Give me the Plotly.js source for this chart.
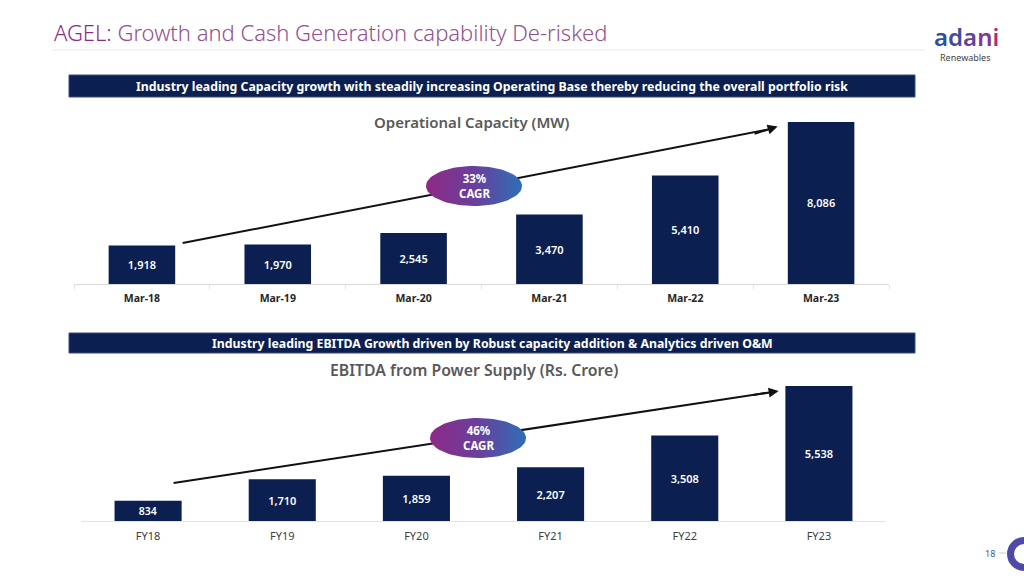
<!DOCTYPE html>
<html><head><meta charset="utf-8">
<script src="https://cdn.plot.ly/plotly-3.0.1.min.js"></script>
<style>html,body{margin:0;padding:0;background:#fff}#chart{width:1024px;height:576px}</style>
</head><body><div id="chart"></div>
<script>
// ---- data ----
const capacityCategories = ["Mar-18","Mar-19","Mar-20","Mar-21","Mar-22","Mar-23"];
const capacityValues = [1918, 1970, 2545, 3470, 5410, 8086];
const ebitdaCategories = ["FY18","FY19","FY20","FY21","FY22","FY23"];
const ebitdaValues = [834, 1710, 1859, 2207, 3508, 5538];
const capacityCagr = "33%";
const ebitdaCagr = "46%";

const NAVY = "#0b1f50";
const FONT = "Noto Sans, Lato, sans-serif";
const fmt = v => v.toLocaleString("en-US");

// pixel -> paper helpers for decoration
const px = x => x / 1024, py = y => 1 - y / 576;

function ellipse(cx, cy, rx, ry) {
  const xs = [], ys = [];
  for (let i = 0; i <= 72; i++) { const t = i / 72 * 2 * Math.PI; xs.push(cx + rx * Math.cos(t)); ys.push(cy + ry * Math.sin(t)); }
  return {type: "scatter", mode: "lines", x: xs, y: ys, xaxis: "x3", yaxis: "y3",
    fill: "toself", line: {width: 0, color: "rgba(0,0,0,0)"}, hoverinfo: "skip",
    fillgradient: {type: "horizontal", colorscale: [[0, "#8e2a86"], [0.5, "#6a3f9c"], [1, "#2e6fb6"]]}};
}

const barCommon = {type: "bar", marker: {color: NAVY}, textposition: "inside", insidetextanchor: "middle",
  textfont: {color: "#ffffff", size: 11, family: FONT, weight: 600}, hoverinfo: "skip", cliponaxis: false};

const traces = [
  Object.assign({}, barCommon, {x: capacityCategories, y: capacityValues, text: capacityValues.map(fmt), width: 0.49, xaxis: "x", yaxis: "y"}),
  Object.assign({}, barCommon, {x: ebitdaCategories, y: ebitdaValues, text: ebitdaValues.map(fmt), width: 0.5, xaxis: "x2", yaxis: "y2"}),
  ellipse(474, 186, 48, 20),
  ellipse(478, 438, 48, 20)
];

const layout = {
  width: 1024, height: 576, margin: {l: 0, r: 0, t: 0, b: 0},
  paper_bgcolor: "#ffffff", plot_bgcolor: "rgba(0,0,0,0)", showlegend: false,
  font: {family: FONT},
  xaxis: {domain: [px(74), px(889)], anchor: "y", showline: true, linecolor: "#d9d9d9", linewidth: 1,
    ticks: "outside", tickson: "boundaries", ticklen: 4, tickcolor: "#e3e3e3", ticklabelstandoff: 4,
    tickfont: {size: 10.5, color: "#262626", family: FONT, weight: 700}, fixedrange: true},
  yaxis: {domain: [py(284), py(113.7)], anchor: "x", range: [0, 8500], visible: false, fixedrange: true},
  xaxis2: {domain: [px(81), px(886)], anchor: "y2", showline: true, linecolor: "#e3e3e3", linewidth: 1,
    ticks: "", ticklabelstandoff: 5, tickfont: {size: 11, color: "#404040", family: FONT}, fixedrange: true},
  yaxis2: {domain: [py(521), py(379.6)], anchor: "x2", range: [0, 5800], visible: false, fixedrange: true},
  xaxis3: {domain: [0, 1], anchor: "y3", range: [0, 1024], visible: false, fixedrange: true},
  yaxis3: {domain: [0, 1], anchor: "x3", range: [576, 0], visible: false, fixedrange: true},
  shapes: [
    {type: "line", xref: "paper", yref: "paper", x0: px(52), x1: px(925), y0: py(50), y1: py(50), line: {color: "#e8e8e8", width: 1}},
    {type: "rect", xref: "paper", yref: "paper", x0: px(69), x1: px(915), y0: py(97), y1: py(75), fillcolor: NAVY, line: {color: "#3a4d7a", width: 1}},
    {type: "rect", xref: "paper", yref: "paper", x0: px(69), x1: px(915), y0: py(353), y1: py(333), fillcolor: NAVY, line: {color: "#3a4d7a", width: 1}},
    // trend arrows (line part, below traces so the ellipse covers it)
    {type: "line", layer: "below", xref: "x", yref: "y", x0: 0.30, y0: 2047, x1: 4.6, y1: 7700, line: {color: "#111111", width: 2}},
    {type: "line", layer: "below", xref: "x2", yref: "y2", x0: 0.19, y0: 1559, x1: 4.6, y1: 5250, line: {color: "#111111", width: 2}},
    // page marker
    {type: "line", xref: "paper", yref: "paper", x0: px(999), x1: px(1006), y0: py(553), y1: py(553), line: {color: "#cccccc", width: 1}},
    {type: "circle", xref: "paper", yref: "paper", x0: px(1010.5), x1: px(1037.5), y0: py(567.5), y1: py(540.5), line: {color: "#4f4aa5", width: 7}, fillcolor: "rgba(0,0,0,0)"}
  ],
  annotations: [
    {xref: "paper", yref: "paper", x: px(52), y: py(32), xanchor: "left", yanchor: "middle", showarrow: false,
      text: "<span style='color:#8a2c86'>AGEL:</span> <span style='color:#93508f'>Growth and Cash Generation capability De-risked</span>",
      font: {size: 22, family: FONT, weight: 300}},
    {xref: "paper", yref: "paper", x: px(966), y: py(36), xanchor: "center", yanchor: "middle", showarrow: false,
      text: "<span style='color:#2e4f98'>a</span><span style='color:#48489c'>d</span><span style='color:#653f99'>a</span><span style='color:#873492'>n</span><span style='color:#ad2f70'>i</span>",
      font: {size: 24, family: FONT, weight: 600}},
    {xref: "paper", yref: "paper", x: px(965), y: py(58), xanchor: "center", yanchor: "middle", showarrow: false,
      text: "Renewables", font: {size: 9, color: "#444444", family: FONT}},
    {xref: "paper", yref: "paper", x: px(492), y: py(86), xanchor: "center", yanchor: "middle", showarrow: false,
      text: "Industry leading Capacity growth with steadily increasing Operating Base thereby reducing the overall portfolio risk",
      font: {size: 12.3, color: "#ffffff", family: FONT, weight: 700}},
    {xref: "paper", yref: "paper", x: px(492), y: py(343), xanchor: "center", yanchor: "middle", showarrow: false,
      text: "Industry leading EBITDA Growth driven by Robust capacity addition &amp; Analytics driven O&amp;M",
      font: {size: 12.3, color: "#ffffff", family: FONT, weight: 700}},
    {xref: "paper", yref: "paper", x: px(472), y: py(122), xanchor: "center", yanchor: "middle", showarrow: false,
      text: "Operational Capacity (MW)", font: {size: 15, color: "#595959", family: FONT, weight: 600}},
    {xref: "paper", yref: "paper", x: px(474), y: py(370), xanchor: "center", yanchor: "middle", showarrow: false,
      text: "EBITDA from Power Supply (Rs. Crore)", font: {size: 15.8, color: "#595959", family: FONT, weight: 600}},
    // arrow heads
    {xref: "x", yref: "y", axref: "x", ayref: "y", x: 4.68, y: 7860, ax: 4.5, ay: 7480, showarrow: true, arrowhead: 2, arrowsize: 1, arrowwidth: 2, arrowcolor: "#111111", text: ""},
    {xref: "x2", yref: "y2", axref: "x2", ayref: "y2", x: 4.70, y: 5330, ax: 4.5, ay: 5160, showarrow: true, arrowhead: 2, arrowsize: 1, arrowwidth: 2, arrowcolor: "#111111", text: ""},
    // CAGR labels
    {xref: "paper", yref: "paper", x: px(474), y: py(186), xanchor: "center", yanchor: "middle", showarrow: false,
      text: capacityCagr + "<br>CAGR", font: {size: 11.5, color: "#ffffff", family: FONT, weight: 700}},
    {xref: "paper", yref: "paper", x: px(478), y: py(438), xanchor: "center", yanchor: "middle", showarrow: false,
      text: ebitdaCagr + "<br>CAGR", font: {size: 11.5, color: "#ffffff", family: FONT, weight: 700}},
    {xref: "paper", yref: "paper", x: px(990), y: py(553), xanchor: "center", yanchor: "middle", showarrow: false,
      text: "18", font: {size: 9, color: "#3b5aa0", family: FONT}}
  ]
};

Plotly.newPlot("chart", traces, layout, {staticPlot: true, displayModeBar: false});
</script></body></html>
